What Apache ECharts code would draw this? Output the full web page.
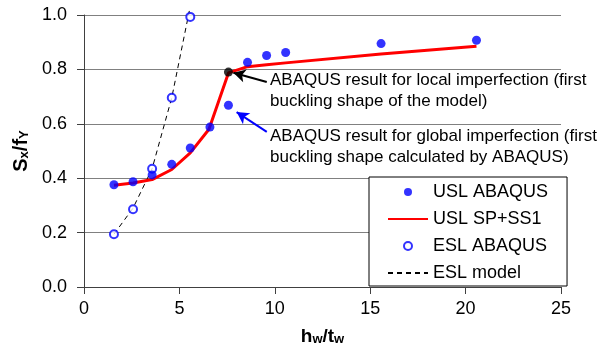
<!DOCTYPE html>
<html>
<head>
<meta charset="utf-8">
<script src="https://cdn.jsdelivr.net/npm/echarts@6/dist/echarts.min.js"></script>
<style>html,body{margin:0;padding:0;background:#fff}#c{width:598px;height:354px}</style>
</head>
<body>
<div id="c"></div>
<script>
// ---- data ----
var uslAbaqusX = [1.57, 2.57, 3.57, 4.6, 5.57, 6.6, 7.57, 8.57, 9.57, 10.57, 15.57, 20.57];
var uslAbaqusY = [0.376, 0.387, 0.412, 0.451, 0.511, 0.588, 0.668, 0.826, 0.851, 0.862, 0.895, 0.907];
var uslModelX = [1.57, 2.57, 3.57, 4.6, 5.57, 6.55, 7.57, 8.57, 9.57, 10.57, 15.57, 20.57];
var uslModelY = [0.374, 0.382, 0.395, 0.432, 0.493, 0.58, 0.787, 0.81, 0.817, 0.824, 0.857, 0.885];
var eslAbaqusX = [1.57, 2.57, 3.57, 4.6, 5.57];
var eslAbaqusY = [0.194, 0.286, 0.435, 0.696, 0.993];
var eslModelX = [1.57, 2.57, 3.57, 4.6, 5.52];
var eslModelY = [0.194, 0.29, 0.435, 0.696, 1.015];
var localImpX = [7.57];
var localImpY = [0.79];
var xTicks = [0, 5, 10, 15, 20, 25];
var yTicks = [0.0, 0.2, 0.4, 0.6, 0.8, 1.0];
var legendNames = ['USL ABAQUS', 'USL SP+SS1', 'ESL ABAQUS', 'ESL model'];
var noteLocal = ['ABAQUS result for local imperfection (first', 'buckling shape of the model)'];
var noteGlobal = ['ABAQUS result for global imperfection (first', 'buckling shape calculated by ABAQUS)'];
// arrow anchors (data coordinates) [tail, head]
var arrowLocal = [[9.58, 0.754], [7.83, 0.788]];
var arrowGlobal = [[9.58, 0.57], [8.0, 0.643]];

function zip(xs, ys) { return xs.map(function (x, i) { return [x, ys[i]]; }); }

var FONT = "'Liberation Sans', Arial, sans-serif";
var chart = echarts.init(document.getElementById('c'), null, { renderer: 'canvas' });
var TRANSPARENT = 'rgba(0,0,0,0)';

var option = {
  animation: false,
  backgroundColor: '#fff',
  textStyle: { fontFamily: FONT },
  grid: { left: 84, right: 37, top: 15, bottom: 67, containLabel: false },
  xAxis: {
    type: 'value', min: xTicks[0], max: xTicks[xTicks.length - 1], interval: 5,
    axisLine: { show: true, lineStyle: { color: '#404040', width: 1 } },
    axisTick: { show: true, length: 7, lineStyle: { color: '#404040' } },
    splitLine: { show: false },
    axisLabel: { fontSize: 18, color: '#000', margin: 13, fontFamily: FONT },
    name: '{a|h}{b|w}{a|/t}{b|w}',
    nameLocation: 'middle', nameGap: 37,
    nameTextStyle: {
      rich: {
        a: { fontSize: 19, fontWeight: 'bold', color: '#000', fontFamily: FONT, lineHeight: 22, verticalAlign: 'bottom' },
        b: { fontSize: 13, fontWeight: 'bold', color: '#000', fontFamily: FONT, lineHeight: 12, verticalAlign: 'bottom' }
      }
    }
  },
  yAxis: {
    type: 'value', min: yTicks[0], max: yTicks[yTicks.length - 1], interval: 0.2,
    axisLine: { show: true, lineStyle: { color: '#404040', width: 1 } },
    axisTick: { show: true, length: 7, lineStyle: { color: '#404040' } },
    splitLine: { show: true, lineStyle: { color: '#808080', width: 1 } },
    axisLabel: { fontSize: 18, color: '#000', margin: 17, fontFamily: FONT, formatter: function (v) { return v.toFixed(1); } },
    name: '{a|S}{b|x}{a|/f}{b|Y}',
    nameLocation: 'middle', nameGap: 46, nameRotate: 90,
    nameTextStyle: {
      rich: {
        a: { fontSize: 20, fontWeight: 'bold', color: '#000', fontFamily: FONT, lineHeight: 23, verticalAlign: 'bottom' },
        b: { fontSize: 13, fontWeight: 'bold', color: '#000', fontFamily: FONT, lineHeight: 12, verticalAlign: 'bottom' }
      }
    }
  },
  legend: {
    data: legendNames,
    orient: 'vertical',
    left: 369, top: 177,
    padding: [5, 19, 3, 18],
    itemWidth: 40, itemHeight: 8, itemGap: 7,
    borderColor: '#000', borderWidth: 1, backgroundColor: '#fff',
    textStyle: { fontSize: 18, color: '#000', fontFamily: FONT, lineHeight: 20, padding: [0, 0, 0, 0] },
    selectedMode: false
  },
  graphic: [
    { type: 'text', left: 270, top: 70, z: 100,
      style: { text: noteLocal.join('\n'), fontSize: 17, lineHeight: 21, fill: '#000', fontFamily: FONT } },
    { type: 'text', left: 270, top: 126, z: 100,
      style: { text: noteGlobal.join('\n'), fontSize: 17, lineHeight: 21, fill: '#000', fontFamily: FONT } }
  ],
  series: [
    {
      name: 'ESL model', type: 'line', data: zip(eslModelX, eslModelY),
      symbol: 'none', clip: false, z: 2,
      lineStyle: { color: '#000', width: 1, type: [5, 4] },
      itemStyle: { color: TRANSPARENT, borderColor: TRANSPARENT }
    },
    {
      name: 'USL SP+SS1', type: 'line', data: zip(uslModelX, uslModelY),
      symbol: 'none', z: 3,
      lineStyle: { color: '#ff0000', width: 3 },
      itemStyle: { color: TRANSPARENT, borderColor: TRANSPARENT }
    },
    {
      name: 'ESL ABAQUS', type: 'scatter', data: zip(eslAbaqusX, eslAbaqusY),
      symbol: 'emptyCircle', symbolSize: 8, z: 4,
      itemStyle: { color: '#0000ff', borderColor: '#0000ff', borderWidth: 1 }
    },
    {
      name: 'USL ABAQUS', type: 'scatter', data: zip(uslAbaqusX, uslAbaqusY),
      symbol: 'circle', symbolSize: 9, z: 5,
      itemStyle: { color: '#0000ff' },
      markLine: {
        silent: true, symbol: ['none', 'arrow'], symbolSize: [10, 12],
        label: { show: false },
        lineStyle: { color: '#0000ff', width: 2, type: 'solid' },
        data: [[{ coord: arrowGlobal[0] }, { coord: arrowGlobal[1] }]]
      }
    },
    {
      name: 'local', type: 'scatter', data: zip(localImpX, localImpY),
      symbol: 'circle', symbolSize: 9, z: 6,
      itemStyle: { color: '#000' },
      markLine: {
        silent: true, symbol: ['none', 'arrow'], symbolSize: [10, 12],
        label: { show: false },
        lineStyle: { color: '#000', width: 2, type: 'solid' },
        data: [[{ coord: arrowLocal[0] }, { coord: arrowLocal[1] }]]
      }
    }
  ]
};
chart.setOption(option);
</script>
</body>
</html>
